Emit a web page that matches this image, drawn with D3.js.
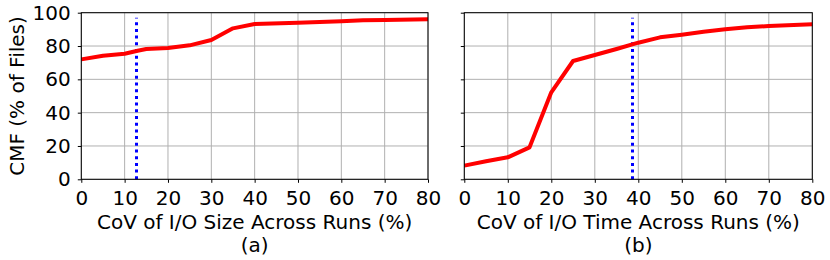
<!DOCTYPE html>
<html>
<head>
<meta charset="utf-8">
<script src="https://cdn.jsdelivr.net/npm/d3@7"></script>
<style>
  body { margin: 0; background: #fff; }
  text { font-family: "DejaVu Sans", sans-serif; fill: #000; }
</style>
</head>
<body>
<svg width="830" height="260"></svg>
<script>
// values
var xTicks = [0, 10, 20, 30, 40, 50, 60, 70, 80];
var yTicks = [0, 20, 40, 60, 80, 100];

var sizeCov = [0, 5, 10, 13, 15, 20, 25, 30, 35, 40, 50, 60, 65, 70, 80];
var sizeCmf = [72, 74.2, 75.4, 77.2, 78.2, 78.8, 80.4, 83.6, 90.6, 93.2, 94, 94.8, 95.4, 95.6, 96];
var sizeMark = 12.7;

var timeCov = [0, 5, 10, 15, 20, 25, 30, 35, 40, 45, 50, 55, 60, 65, 70, 80];
var timeCmf = [8.2, 10.8, 13.2, 19.2, 52.2, 71, 74.6, 78.2, 82, 85.2, 86.8, 88.6, 90, 91.2, 92, 93];
var timeMark = 38.5;

var svg = d3.select("svg");
var plotTop = 12.7, plotBottom = 179.3;
var fs = 20;

var y = d3.scaleLinear().domain([0, 100]).range([plotBottom, plotTop]);

function panel(left, right, xs, ys, mark, xlabel, tag, showY) {
  var x = d3.scaleLinear().domain([0, 80]).range([left, right]);
  var g = svg.append("g");

  // grid
  g.selectAll(".vg").data(xTicks).enter().append("line")
      .attr("x1", x).attr("x2", x).attr("y1", plotTop).attr("y2", plotBottom)
      .attr("stroke", "#b0b0b0").attr("stroke-width", 1);
  g.selectAll(".hg").data(yTicks).enter().append("line")
      .attr("x1", left).attr("x2", right).attr("y1", y).attr("y2", y)
      .attr("stroke", "#b0b0b0").attr("stroke-width", 1);

  // blue dotted marker, snapped to whole pixels so the dots stay crisp
  var mx = Math.round(x(mark)) + 0.5;
  g.append("line")
      .attr("x1", mx).attr("x2", mx)
      .attr("y1", y(0)).attr("y2", y(97))
      .attr("stroke", "#0000ff").attr("stroke-width", 3)
      .attr("stroke-dasharray", "3,3.7");

  // cmf curve
  var line = d3.line().x(function(d) { return x(d[0]); }).y(function(d) { return y(d[1]); });
  g.append("path")
      .datum(d3.zip(xs, ys))
      .attr("d", line)
      .attr("fill", "none").attr("stroke", "#ff0000")
      .attr("stroke-width", 4).attr("stroke-linejoin", "round");

  // frame
  g.append("rect")
      .attr("x", left).attr("y", plotTop)
      .attr("width", right - left).attr("height", plotBottom - plotTop)
      .attr("fill", "none").attr("stroke", "#000").attr("stroke-width", 1);

  var xa = g.append("g").attr("transform", "translate(0," + plotBottom + ")")
      .call(d3.axisBottom(x).tickValues(xTicks).tickSize(3.5).tickPadding(8));
  xa.select(".domain").remove();
  xa.selectAll("text").attr("font-size", fs).attr("font-family", "DejaVu Sans");

  var ya = g.append("g").attr("transform", "translate(" + left + ",0)")
      .call(d3.axisLeft(y).tickValues(yTicks).tickSize(3.5).tickPadding(7)
        .tickFormat(showY ? d3.format("d") : ""));
  ya.select(".domain").remove();
  ya.selectAll("text").attr("font-size", fs).attr("font-family", "DejaVu Sans");

  g.append("text")
      .attr("x", (left + right) / 2).attr("y", 229)
      .attr("text-anchor", "middle").attr("font-size", fs)
      .text(xlabel);
  g.append("text")
      .attr("x", (left + right) / 2).attr("y", 252)
      .attr("text-anchor", "middle").attr("font-size", fs)
      .text(tag);
}

panel(81.3, 428, sizeCov, sizeCmf, sizeMark, "CoV of I/O Size Across Runs (%)", "(a)", true);
panel(464.3, 812.3, timeCov, timeCmf, timeMark, "CoV of I/O Time Across Runs (%)", "(b)", false);

svg.append("text")
    .attr("transform", "translate(24," + ((plotTop + plotBottom) / 2) + ") rotate(-90)")
    .attr("text-anchor", "middle").attr("font-size", fs)
    .text("CMF (% of Files)");
</script>
</body>
</html>
